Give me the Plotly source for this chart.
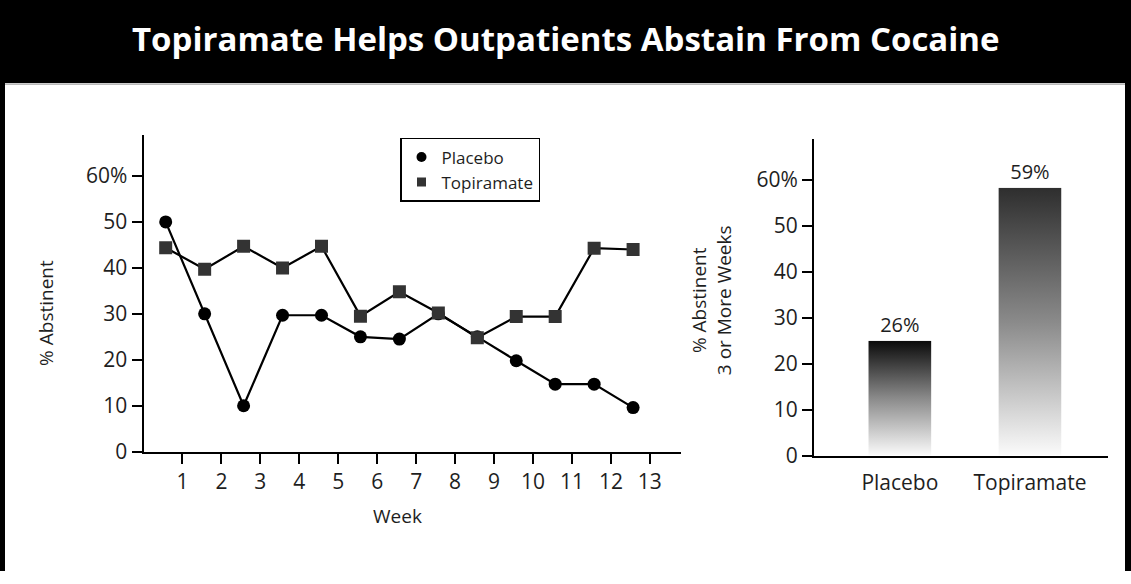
import base64
import plotly.graph_objects as go

# weekly abstinence (%), weeks 1-13
weeks = list(range(1, 14))
placebo = [50, 30, 10, 29.7, 29.7, 25, 24.5, 30, 25, 19.8, 14.7, 14.7, 9.6]
topiramate = [44.4, 39.7, 44.7, 40, 44.7, 29.5, 34.8, 30.2, 24.8, 29.4, 29.4, 44.3, 44.0]

# abstinent 3 or more weeks
groups = ["Placebo", "Topiramate"]
bar_values = [25, 58.3]
bar_labels = ["26%", "59%"]
bar_top_colors = ["#0a0a0a", "#2e2e2e"]

W, H = 1131, 584
FONT = "Open Sans"
TXT = "#1e1e1e"


def px_x(p):
    return p / W


def px_y(p):
    return 1 - p / H


def gradient_src(top):
    svg = (
        "<svg xmlns='http://www.w3.org/2000/svg' width='10' height='100' "
        "viewBox='0 0 10 100' preserveAspectRatio='none'>"
        "<defs><linearGradient id='g' x1='0' y1='0' x2='0' y2='1'>"
        f"<stop offset='0' stop-color='{top}'/>"
        "<stop offset='0.5' stop-color='#8a8a8a'/>"
        "<stop offset='1' stop-color='#fbfbfb'/>"
        "</linearGradient></defs>"
        "<rect width='10' height='100' fill='url(#g)'/></svg>"
    )
    return "data:image/svg+xml;base64," + base64.b64encode(svg.encode()).decode()


xpos = [w - 0.43 for w in weeks]

fig = go.Figure()

fig.add_trace(go.Scatter(
    x=xpos, y=placebo, mode="lines+markers", showlegend=False,
    line=dict(color="black", width=2.2),
    marker=dict(symbol="circle", size=13, color="black"),
    xaxis="x", yaxis="y"))
fig.add_trace(go.Scatter(
    x=xpos, y=topiramate, mode="lines+markers", showlegend=False,
    line=dict(color="black", width=2.2),
    marker=dict(symbol="square", size=13, color="#333333"),
    xaxis="x", yaxis="y"))

# legend entries (markers only)
fig.add_trace(go.Scatter(x=[None], y=[None], mode="markers", name="Placebo",
                         marker=dict(symbol="circle", size=10, color="black"),
                         xaxis="x", yaxis="y"))
fig.add_trace(go.Scatter(x=[None], y=[None], mode="markers", name="Topiramate",
                         marker=dict(symbol="square", size=9, color="#333333"),
                         xaxis="x", yaxis="y"))

bar_x = list(range(len(groups)))
bar_w = 0.485
fig.add_trace(go.Bar(
    x=bar_x, y=bar_values, width=bar_w, showlegend=False,
    marker=dict(color="rgba(0,0,0,0)", line=dict(width=0)),
    text=bar_labels, textposition="outside", cliponaxis=False,
    textfont=dict(family=FONT, size=20, color=TXT),
    xaxis="x2", yaxis="y2"))

images = []
for bx, v, c in zip(bar_x, bar_values, bar_top_colors):
    images.append(dict(
        source=gradient_src(c), xref="x2", yref="y2",
        x=bx - bar_w / 2, y=v, sizex=bar_w, sizey=v,
        xanchor="left", yanchor="top", sizing="stretch", layer="above"))

axis_common = dict(showline=True, linecolor="black", linewidth=2, showgrid=False,
                   zeroline=False, tickcolor="black", tickwidth=2,
                   tickfont=dict(family=FONT, size=21, color=TXT))

yticks = [0, 10, 20, 30, 40, 50, 60]
yticktext = ["0", "10", "20", "30", "40", "50", "60%"]

shapes = [
    dict(type="rect", xref="paper", yref="paper", x0=0, x1=1, y0=px_y(85), y1=1,
         fillcolor="black", line=dict(width=0), layer="below"),
    dict(type="line", xref="paper", yref="paper", x0=0, x1=1, y0=px_y(86), y1=px_y(86),
         line=dict(color="#888888", width=1)),
    dict(type="line", xref="paper", yref="paper", x0=0, x1=0, y0=0, y1=1,
         line=dict(color="black", width=10)),
    dict(type="line", xref="paper", yref="paper", x0=1, x1=1, y0=0, y1=1,
         line=dict(color="black", width=12)),
]

annotations = [
    dict(text="<b>Topiramate Helps Outpatients Abstain From Cocaine</b>",
         xref="paper", yref="paper", x=px_x(566), y=px_y(39), showarrow=False,
         font=dict(family=FONT, size=33, color="white"),
         xanchor="center", yanchor="middle"),
    dict(text="% Abstinent", xref="paper", yref="paper", x=px_x(46), y=px_y(320),
         textangle=-90, showarrow=False, xanchor="center", yanchor="middle",
         font=dict(family=FONT, size=19, color=TXT)),
    dict(text="Week", xref="paper", yref="paper", x=px_x(397), y=px_y(528),
         showarrow=False, xanchor="center", yanchor="middle",
         font=dict(family=FONT, size=19, color=TXT)),
    dict(text="% Abstinent<br>3 or More Weeks", xref="paper", yref="paper",
         x=px_x(711), y=px_y(307), textangle=-90, showarrow=False,
         xanchor="center", yanchor="middle",
         font=dict(family=FONT, size=19, color=TXT)),
]

fig.update_layout(
    width=W, height=H,
    margin=dict(l=0, r=0, t=0, b=0),
    paper_bgcolor="white", plot_bgcolor="white",
    font=dict(family=FONT, color=TXT),
    xaxis=dict(axis_common, domain=[px_x(143.5), px_x(681)], range=[0, 13.8],
               tickvals=weeks, ticks="outside", ticklen=10, ticklabelstandoff=0,
               anchor="y"),
    yaxis=dict(axis_common, domain=[px_y(462), px_y(137.7)], range=[0, 69],
               tickvals=yticks, ticktext=yticktext, ticks="outside", ticklen=10,
               ticklabelstandoff=0, anchor="x"),
    xaxis2=dict(axis_common, domain=[px_x(814), px_x(1108)], range=[-0.66, 1.6],
                tickvals=bar_x, ticktext=groups, ticks="", ticklabelstandoff=7,
                anchor="y2"),
    yaxis2=dict(axis_common, domain=[px_y(466), px_y(141.7)], range=[0, 69],
                tickvals=yticks, ticktext=yticktext, ticks="outside", ticklen=10,
                ticklabelstandoff=0, anchor="x2"),
    legend=dict(x=px_x(400), y=px_y(141), xanchor="left", yanchor="top",
                bgcolor="white", bordercolor="black", borderwidth=1.5,
                font=dict(family=FONT, size=17, color=TXT), tracegroupgap=0),
    shapes=shapes, annotations=annotations, images=images,
    showlegend=True,
)

# page margin off so the figure sits at the window's top-left corner
fig.write_html("out.html", config={"displayModeBar": False},
               post_script="document.body.style.margin = '0';")
